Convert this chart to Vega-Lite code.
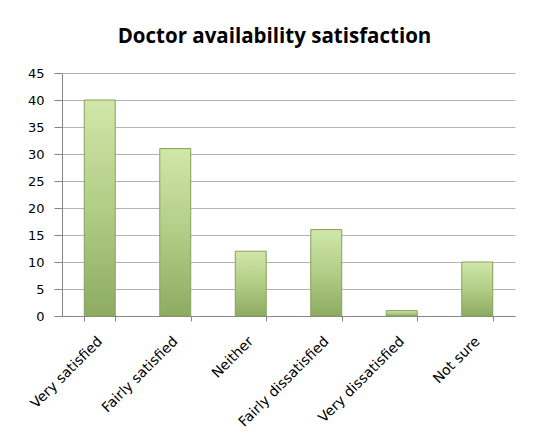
{
  "$schema": "https://vega.github.io/schema/vega-lite/v6.json",
  "width": 453,
  "height": 243,
  "autosize": {"type": "none"},
  "padding": {"left": 62, "top": 73, "right": 24, "bottom": 123},
  "background": "white",
  "title": {
    "text": "Doctor availability satisfaction",
    "font": "Open Sans",
    "fontSize": 20.5,
    "fontWeight": "bold",
    "color": "black",
    "frame": "group",
    "anchor": "middle",
    "baseline": "alphabetic",
    "offset": 4,
    "dx": -14
  },
  "data": {
    "values": [
      {"response": "Very satisfied", "count": 40},
      {"response": "Fairly satisfied", "count": 31},
      {"response": "Neither", "count": 12},
      {"response": "Fairly dissatisfied", "count": 16},
      {"response": "Very dissatisfied", "count": 1},
      {"response": "Not sure", "count": 10}
    ]
  },
  "mark": {
    "type": "bar",
    "stroke": "#86a05c",
    "strokeWidth": 1,
    "fill": {
      "gradient": "linear",
      "x1": 0, "y1": 0, "x2": 0, "y2": 1,
      "stops": [
        {"offset": 0, "color": "#d0e7a9"},
        {"offset": 0.5, "color": "#b1cd86"},
        {"offset": 1, "color": "#8eab63"}
      ]
    }
  },
  "encoding": {
    "x": {
      "field": "response",
      "type": "nominal",
      "sort": null,
      "title": null,
      "scale": {"paddingInner": 0.59, "paddingOuter": 0.295},
      "axis": {
        "tickBand": "extent",
        "tickSize": 5,
        "tickColor": "#868686",
        "domainColor": "#868686",
        "labelAngle": -45,
        "labelAlign": "right",
        "labelBaseline": "top",
        "labelPadding": 13,
        "labelOffset": -5,
        "labelFont": "DejaVu Sans",
        "labelFontSize": 14,
        "labelColor": "black",
        "grid": false
      }
    },
    "y": {
      "field": "count",
      "type": "quantitative",
      "title": null,
      "scale": {"domain": [0, 45], "nice": false},
      "axis": {
        "values": [0, 5, 10, 15, 20, 25, 30, 35, 40, 45],
        "tickSize": 8,
        "tickColor": "#868686",
        "domainColor": "#868686",
        "gridColor": "#b3b3b3",
        "labelPadding": 10,
        "labelFont": "DejaVu Sans",
        "labelFontSize": 13,
        "labelColor": "black"
      }
    }
  },
  "config": {
    "view": {"stroke": null}
  }
}
